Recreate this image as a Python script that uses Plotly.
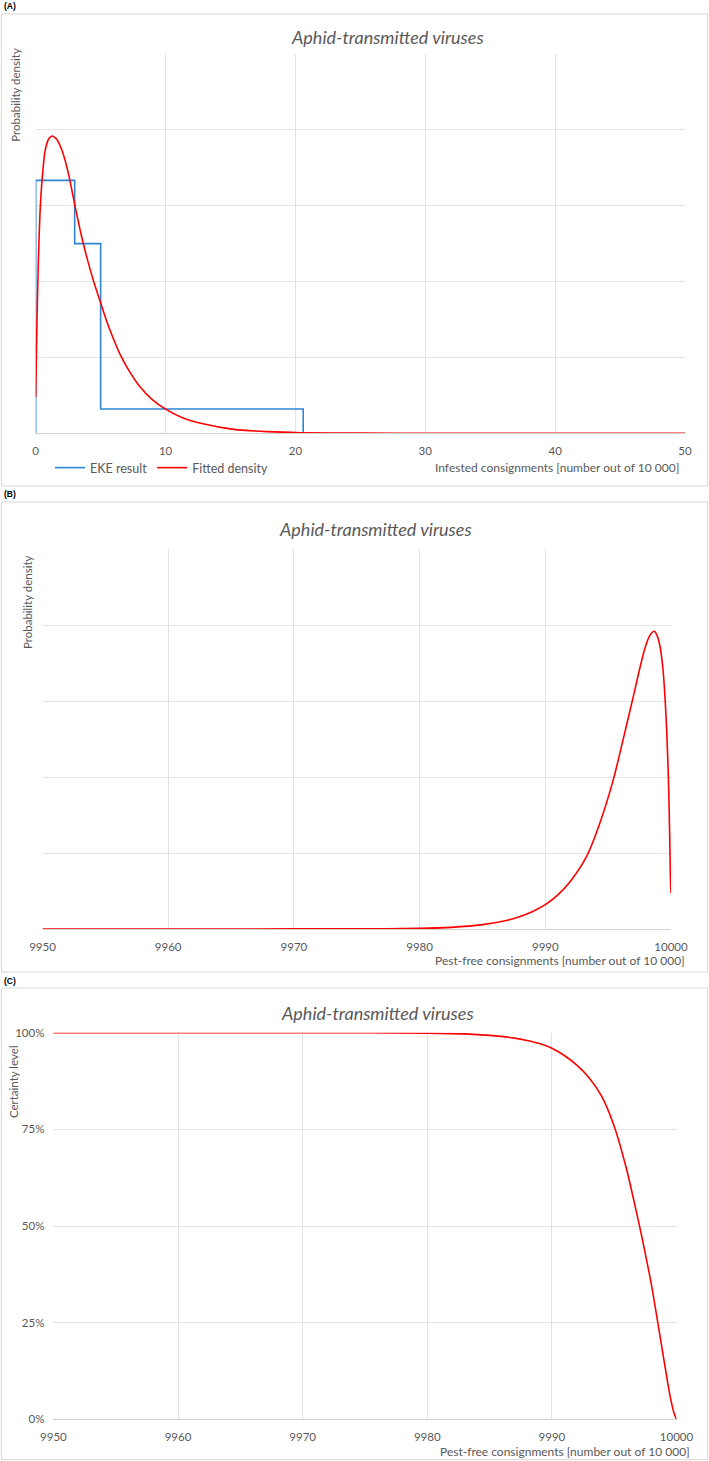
import plotly.graph_objects as go

W, H = 709, 1461

# ---- data ----
# (A) infested consignments, EKE histogram (density per unit)
eke_x = [0, 0, 3, 5, 20.6]
eke_y = [0, 0.1667, 0.125, 0.016, 0]

# (A) fitted density
fit_x = [0, 0.05, 0.1, 0.2, 0.33, 0.5, 0.72, 1.0, 1.26, 1.6, 2.0, 2.5, 3.0, 3.5, 4.0, 4.5,
         5.0, 5.5, 6.0, 6.5, 7.0, 8.0, 9.0, 10.0, 11.4, 12.7, 15.25, 17.8, 20.4, 25, 30, 40, 50]
fit_y = [0.024, 0.05, 0.075, 0.112, 0.145, 0.168, 0.186, 0.194, 0.196, 0.194, 0.187, 0.172,
         0.151, 0.131, 0.114, 0.099, 0.086, 0.073, 0.062, 0.052, 0.044, 0.031, 0.022, 0.0159,
         0.0099, 0.0066, 0.0026, 0.0011, 0.0004, 0.0001, 0, 0, 0]

# (B) pest-free consignments, fitted density
pf_x = [9950, 9960, 9970, 9975, 9980, 9982.5, 9985, 9987, 9988, 9989, 9990, 9991, 9992,
        9993.3, 9994.35, 9995.4, 9996.2, 9997.0, 9997.5, 9997.93, 9998.3, 9998.67, 9998.9,
        9999.13, 9999.35, 9999.52, 9999.67, 9999.79, 9999.9, 9999.95, 10000]
pf_y = [0, 0, 0.00005, 0.0001, 0.0004, 0.0011, 0.0029, 0.0058, 0.0082, 0.0115, 0.016, 0.0225,
        0.0315, 0.048, 0.07, 0.098, 0.125, 0.153, 0.171, 0.185, 0.193, 0.196, 0.193, 0.186,
        0.172, 0.153, 0.128, 0.1, 0.06, 0.035, 0.0235]

# (C) certainty level
cl_x = [9950, 9960, 9970, 9975, 9980, 9983, 9985, 9987, 9988, 9989, 9990, 9991, 9992, 9993,
        9994, 9995, 9996, 9996.5, 9997, 9997.5, 9998, 9998.5, 9999, 9999.5, 9999.8, 10000]
cl_y = [1.0, 1.0, 1.0, 0.9999, 0.999, 0.997, 0.993, 0.986, 0.98, 0.972, 0.96, 0.941, 0.916,
        0.883, 0.835, 0.758, 0.646, 0.577, 0.505, 0.428, 0.346, 0.25, 0.152, 0.058, 0.016, 0]

title = "Aphid-transmitted viruses"
FONT = "Lato, 'Open Sans', sans-serif"
GREY = "#595959"
GRID = "#E3E3E3"
BLUE = "#2E86D2"
RED = "#FF0000"


def px(x):
    return x / W


def py(y):
    return 1 - y / H


fig = go.Figure()

fig.add_trace(go.Scatter(x=eke_x, y=eke_y, mode="lines", line_shape="hv", name="EKE result",
                         line=dict(color=BLUE, width=1.6), xaxis="x", yaxis="y"))
fig.add_trace(go.Scatter(x=fit_x, y=fit_y, mode="lines", line_shape="spline", name="Fitted density",
                         line=dict(color=RED, width=1.6, smoothing=0.6), xaxis="x", yaxis="y"))
fig.add_trace(go.Scatter(x=pf_x, y=pf_y, mode="lines", line_shape="spline", showlegend=False,
                         line=dict(color=RED, width=1.6, smoothing=0.8), xaxis="x2", yaxis="y2"))
fig.add_trace(go.Scatter(x=cl_x, y=cl_y, mode="lines", line_shape="spline", showlegend=False,
                         line=dict(color=RED, width=1.6, smoothing=0.8), xaxis="x3", yaxis="y3"))

tickfont = dict(family=FONT, size=11.5, color=GREY)
xcommon = dict(showgrid=True, gridcolor=GRID, gridwidth=1, showline=True, linecolor="#D0D0D0",
               zeroline=False, ticks="", tickfont=tickfont, ticklabelstandoff=7, fixedrange=True,
               automargin=False)
ycommon = dict(showgrid=True, gridcolor=GRID, gridwidth=1, zeroline=False, ticks="", fixedrange=True,
               automargin=False)

fig.update_layout(
    xaxis=dict(domain=[px(35.7), px(685)], range=[0, 50], dtick=10, anchor="y", **xcommon),
    yaxis=dict(domain=[py(433.3), py(54)], range=[0, 0.25], dtick=0.05, showticklabels=False,
               anchor="x", **ycommon),
    xaxis2=dict(domain=[px(42.5), px(671)], range=[9950, 10000], dtick=10, tickformat="d",
                anchor="y2", **xcommon),
    yaxis2=dict(domain=[py(929), py(549.3)], range=[0, 0.25], dtick=0.05, showticklabels=False,
                anchor="x2", **ycommon),
    xaxis3=dict(domain=[px(53.4), px(676.5)], range=[9950, 10000], dtick=10, tickformat="d",
                anchor="y3", **xcommon),
    yaxis3=dict(domain=[py(1419.3), py(1032.7)], range=[0, 1], tickvals=[0, 0.25, 0.5, 0.75, 1],
                tickformat=".0%", tickfont=tickfont, ticklabelstandoff=8, anchor="x3", **ycommon),
)

# chart frames
frames = [(1.5, 14, 707.5, 486), (1.5, 502, 707.5, 972), (1.5, 988, 707.5, 1459.5)]
for x0, y0, x1, y1 in frames:
    fig.add_shape(type="rect", xref="paper", yref="paper", x0=px(x0), x1=px(x1), y0=py(y0), y1=py(y1),
                  line=dict(color="#D9D9D9", width=1), layer="below")

ann = []
for lab, y in [("(A)", 6), ("(B)", 494), ("(C)", 980.5)]:
    ann.append(dict(text="<b>%s</b>" % lab, x=px(2), y=py(y), xanchor="left", yanchor="middle",
                    font=dict(family="Liberation Sans, Arial", size=8.5, color="#000000")))

for xc, yc in [(387, 37), (376, 529), (378, 1012.7)]:
    ann.append(dict(text="<i>%s</i>" % title, x=px(xc), y=py(yc), xanchor="center", yanchor="middle",
                    font=dict(family=FONT, size=18, color=GREY)))

for text, xc, yc in [("Probability density", 15.7, 95), ("Probability density", 27, 602),
                     ("Certainty level", 13.6, 1081.5)]:
    ann.append(dict(text=text, x=px(xc), y=py(yc), textangle=-90, xanchor="center", yanchor="middle",
                    font=dict(family=FONT, size=11.5, color=GREY)))

for text, xr, yc in [("Infested consignments [number out of 10 000]", 681, 468),
                     ("Pest-free consignments [number out of 10 000]", 687, 960),
                     ("Pest-free consignments [number out of 10 000]", 692, 1451.7)]:
    ann.append(dict(text=text, x=px(xr), y=py(yc), xanchor="right", yanchor="middle",
                    font=dict(family=FONT, size=12, color=GREY)))

fig.update_layout(
    width=W, height=H,
    margin=dict(l=0, r=0, t=0, b=0, autoexpand=False),
    paper_bgcolor="white", plot_bgcolor="white",
    annotations=[dict(a, xref="paper", yref="paper", showarrow=False) for a in ann],
    showlegend=True,
    legend=dict(orientation="h", x=px(50), y=py(468), xanchor="left", yanchor="middle",
                font=dict(family=FONT, size=12.5, color=GREY), itemwidth=30,
                bgcolor="rgba(0,0,0,0)", tracegroupgap=0),
)

# page body margin off so the 709x1461 figure fills the window
fig.write_html("out.html", config={"displayModeBar": False},
               post_script="document.body.style.margin='0';"
                           "document.body.style.overflow='hidden';")
